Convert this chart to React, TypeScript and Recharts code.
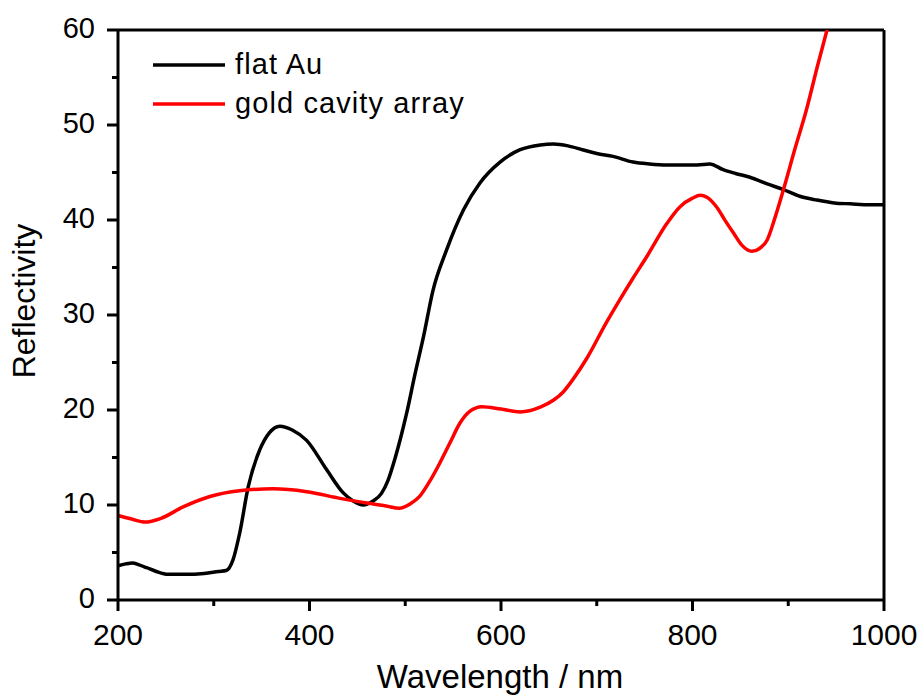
import { Line, LineChart, ReferenceLine, XAxis, YAxis } from "recharts";

const flatWavelength = [
  200, 208, 215, 222, 230, 240, 252, 270, 290, 305, 313, 320, 327, 336, 348, 358, 369, 382, 397, 418,
  435, 446, 456, 466, 475, 482, 489, 496, 502, 510, 519, 529, 543, 561, 578, 599, 620, 641, 655, 670,
  685, 700, 717, 738, 755, 773, 790, 805, 818, 832, 845, 860, 878, 895, 912, 930, 948, 965, 985, 1000,
];
const flatReflectivity = [
  3.6, 3.8, 3.9, 3.7, 3.4, 3.0, 2.7, 2.7, 2.8, 3.0, 3.1, 4.2, 7.0, 11.9, 15.8, 17.6, 18.3, 17.9, 16.8, 13.7,
  11.3, 10.4, 10.0, 10.4, 11.2, 12.6, 14.8, 17.4, 19.9, 23.7, 27.7, 32.6, 36.8, 41.1, 43.9, 46.1, 47.4, 47.9, 48.0, 47.8,
  47.4, 47.0, 46.7, 46.1, 45.9, 45.8, 45.8, 45.8, 45.9, 45.3, 44.9, 44.5, 43.8, 43.2, 42.5, 42.1, 41.8, 41.7, 41.6, 41.6,
];

const cavityWavelength = [
  200, 215, 228, 245, 268, 296, 327, 362, 397, 432, 460, 480, 494, 505, 515, 525, 536, 547, 557, 568,
  580, 600, 620, 641, 655, 665, 675, 690, 710, 724, 738, 752, 773, 787, 800, 808, 815, 825, 835, 843,
  852, 862, 870, 878, 886, 895, 907, 919, 930, 941,
];
const cavityReflectivity = [
  8.9, 8.5, 8.2, 8.6, 9.8, 10.9, 11.5, 11.7, 11.4, 10.7, 10.2, 9.9, 9.65, 10.1, 10.9, 12.4, 14.4, 16.6, 18.6, 19.9,
  20.35, 20.1, 19.8, 20.3, 21.05, 21.9, 23.2, 25.5, 29.2, 31.6, 33.9, 36.1, 39.6, 41.4, 42.3, 42.6, 42.4, 41.4, 39.8, 38.6,
  37.3, 36.7, 37.0, 37.9, 40.2, 43.2, 47.5, 51.6, 56.0, 60.2,
];

const xTicks = [200, 300, 400, 500, 600, 700, 800, 900, 1000];
const xLabels = [200, 400, 600, 800, 1000];
const yTicks = [0, 5, 10, 15, 20, 25, 30, 35, 40, 45, 50, 55, 60];
const yLabels = [0, 10, 20, 30, 40, 50, 60];

const seriesNames = ["flat Au", "gold cavity array"];
const seriesColors = ["#000000", "#ff0000"];

const flatData = flatWavelength.map((x, i) => ({ x, y: flatReflectivity[i] }));
const cavityData = cavityWavelength.map((x, i) => ({ x, y: cavityReflectivity[i] }));

const FONT = "'Liberation Sans', Arial, sans-serif";

function XTick({ x, y, payload }: any) {
  const major = xLabels.includes(payload.value);
  return (
    <g>
      <line x1={x} x2={x} y1={y} y2={y + (major ? 11 : 6)} stroke="#000" strokeWidth={3} />
      {major && (
        <text x={x} y={y + 45} textAnchor="middle" fontSize={30} fontFamily={FONT} fill="#000">
          {payload.value}
        </text>
      )}
    </g>
  );
}

function YTick({ x, y, payload }: any) {
  const major = yLabels.includes(payload.value);
  return (
    <g>
      <line x1={x} x2={x - (major ? 11 : 6)} y1={y} y2={y} stroke="#000" strokeWidth={3} />
      {major && (
        <text x={x - 23} y={y + 8} textAnchor="end" fontSize={29} fontFamily={FONT} fill="#000">
          {payload.value}
        </text>
      )}
    </g>
  );
}

function LegendBox() {
  return (
    <div style={{ position: "absolute", left: 150, top: 45, fontFamily: FONT, fontSize: 29, color: "#000" }}>
      {seriesNames.map((name, i) => (
        <div key={name} style={{ display: "flex", alignItems: "center", height: 39 }}>
          <svg width={85} height={10}>
            <line x1={3} x2={75} y1={5} y2={5} stroke={seriesColors[i]} strokeWidth={3.5} />
          </svg>
          <span style={{ letterSpacing: 1.1 }}>{name}</span>
        </div>
      ))}
    </div>
  );
}

export default function App() {
  return (
    <div style={{ position: "absolute", left: 0, top: 0, width: 924, height: 700, background: "#fff" }}>
      <LineChart width={924} height={700} margin={{ top: 30, right: 40, bottom: 0, left: 0 }}>
        <XAxis
          dataKey="x"
          type="number"
          domain={[200, 1000]}
          ticks={xTicks}
          interval={0}
          tick={<XTick />}
          tickLine={false}
          tickSize={0}
          tickMargin={0}
          axisLine={{ stroke: "#000", strokeWidth: 3 }}
          height={100}
          allowDuplicatedCategory={false}
          label={{
            content: () => (
              <text x={500} y={688} textAnchor="middle" fontSize={33} fontFamily={FONT} fill="#000">
                Wavelength / nm
              </text>
            ),
          }}
        />
        <YAxis
          type="number"
          domain={[0, 60]}
          ticks={yTicks}
          interval={0}
          allowDataOverflow
          tick={<YTick />}
          tickLine={false}
          tickSize={0}
          tickMargin={0}
          axisLine={{ stroke: "#000", strokeWidth: 3 }}
          width={118}
          label={{
            content: () => (
              <text
                x={35}
                y={301}
                transform="rotate(-90 35 301)"
                textAnchor="middle"
                fontSize={32}
                fontFamily={FONT}
                fill="#000"
              >
                Reflectivity
              </text>
            ),
          }}
        />
        <ReferenceLine y={60} stroke="#000" strokeWidth={3} />
        <ReferenceLine x={1000} stroke="#000" strokeWidth={3} />
        <Line
          data={flatData}
          dataKey="y"
          name={seriesNames[0]}
          stroke={seriesColors[0]}
          strokeWidth={3.5}
          dot={false}
          type="monotone"
          isAnimationActive={false}
        />
        <Line
          data={cavityData}
          dataKey="y"
          name={seriesNames[1]}
          stroke={seriesColors[1]}
          strokeWidth={3.5}
          dot={false}
          type="monotone"
          isAnimationActive={false}
        />
      </LineChart>
      <LegendBox />
    </div>
  );
}
